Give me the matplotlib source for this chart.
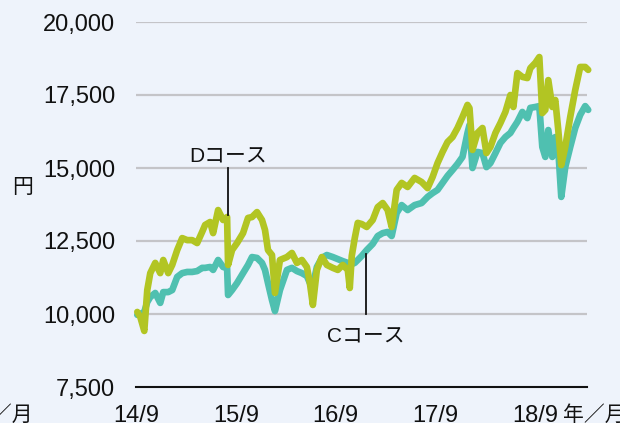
import matplotlib
matplotlib.use('Agg')
import matplotlib.pyplot as plt

plt.rcParams['font.family'] = ['Liberation Sans', 'Noto Sans CJK JP']

# time in decimal years (14/9 = 2014.667)
t = [2014.68, 2014.71, 2014.75, 2014.78, 2014.81, 2014.86, 2014.91, 2014.94, 2014.99, 2015.03,
     2015.08, 2015.13, 2015.18, 2015.23, 2015.28, 2015.33, 2015.36, 2015.41, 2015.44, 2015.49,
     2015.54, 2015.58, 2015.59, 2015.63, 2015.68, 2015.74, 2015.79, 2015.83, 2015.88, 2015.93,
     2015.96, 2015.99, 2016.03, 2016.06, 2016.11, 2016.18, 2016.23, 2016.28, 2016.33, 2016.38,
     2016.41, 2016.44, 2016.48, 2016.53, 2016.58, 2016.64, 2016.69, 2016.74, 2016.79, 2016.81,
     2016.83, 2016.86, 2016.89, 2016.93, 2016.98, 2017.04, 2017.09, 2017.14, 2017.19, 2017.23,
     2017.28, 2017.33, 2017.39, 2017.46, 2017.53, 2017.59, 2017.64, 2017.69, 2017.74, 2017.79,
     2017.84, 2017.89, 2017.94, 2017.99, 2018.01, 2018.04, 2018.09, 2018.14, 2018.18, 2018.22,
     2018.27, 2018.32, 2018.37, 2018.42, 2018.45, 2018.49, 2018.54, 2018.59, 2018.62, 2018.67,
     2018.71, 2018.74, 2018.77, 2018.80, 2018.84, 2018.87, 2018.90, 2018.93, 2018.97, 2019.02,
     2019.07, 2019.12, 2019.17, 2019.20]

d_course = [10070, 9900, 9420, 10820, 11400, 11750, 11400, 11850, 11400, 11680,
            12190, 12600, 12530, 12530, 12430, 12810, 13050, 13150, 12770, 13560,
            13220, 13320, 11680, 12190, 12430, 12770, 13290, 13320, 13490, 13220,
            12880, 12190, 12020, 10720, 11850, 11950, 12090, 11750, 11850, 11610,
            11060, 10310, 11510, 11950, 11680, 11580, 11510, 11680, 11510, 10890,
            11990, 12600, 13120, 13080, 12980, 13220, 13660, 13800, 13560, 12980,
            14250, 14490, 14350, 14660, 14520, 14310, 14690, 15170, 15550, 15890,
            16060, 16370, 16750, 17160, 17050, 15620, 16200, 16370, 15510, 15720,
            16200, 16540, 16920, 17500, 17090, 18250, 18120, 18080, 18420, 18600,
            18800, 16880, 16990, 18010, 17090, 17330, 16300, 15100, 15720, 16750,
            17670, 18460, 18460, 18360]

c_course = [9970, 10000, 10070, 10410, 10580, 10720, 10380, 10750, 10750, 10820,
            11270, 11400, 11440, 11440, 11470, 11580, 11580, 11610, 11510, 11850,
            11610, 11580, 10650, 10820, 11060, 11400, 11680, 11950, 11920, 11750,
            11510, 11060, 10480, 10100, 10820, 11510, 11580, 11470, 11400, 11300,
            11060, 10990, 11610, 11920, 12020, 11950, 11880, 11810, 11750, 11680,
            11710, 11750, 11850, 11990, 12190, 12400, 12670, 12770, 12810, 12670,
            13460, 13730, 13560, 13730, 13800, 14010, 14140, 14250, 14490, 14730,
            14930, 15140, 15380, 16200, 16470, 15000, 15550, 15510, 15030, 15170,
            15510, 15860, 16060, 16200, 16370, 16580, 16920, 16710, 17060, 17090,
            17120, 15720, 15380, 16300, 15380, 16060, 15620, 14010, 15030, 15720,
            16370, 16820, 17120, 16990]

yticks = [7500, 10000, 12500, 15000, 17500, 20000]
xticks = [2014.667, 2015.667, 2016.667, 2017.667, 2018.667]
xlabels = ['14/9', '15/9', '16/9', '17/9', '18/9']

bg = '#EEF3FB'
fig = plt.figure(figsize=(6.2, 4.23), dpi=100, facecolor=bg)
ax = fig.add_axes([136 / 620, 1 - 387 / 423, 451 / 620, 365 / 423])
ax.set_facecolor(bg)

for y in yticks[1:]:
    ax.axhline(y, color='#C4C4C8', lw=1.6, zorder=1)

ax.plot(t, c_course, color='#4FC0B0', lw=4.8, solid_capstyle='round',
        solid_joinstyle='round', zorder=3, clip_on=False)
ax.plot(t, d_course, color='#B2C523', lw=4.8, solid_capstyle='round',
        solid_joinstyle='round', zorder=4, clip_on=False)

ax.set_xlim(2014.667, 2019.188)
ax.set_ylim(7500, 20000)
ax.set_yticks(yticks)
ax.set_yticklabels([f'{v:,}' for v in yticks])
ax.set_xticks(xticks)
ax.set_xticklabels(xlabels)
ax.tick_params(axis='y', length=0, pad=15, labelsize=17, colors='#111111')
ax.tick_params(axis='x', length=0, pad=13, labelsize=17, colors='#111111')

for s in ['left', 'right', 'top']:
    ax.spines[s].set_visible(False)
ax.spines['bottom'].set_color('#111111')
ax.spines['bottom'].set_linewidth(1.5)
ax.spines['bottom'].set_zorder(5)

# callouts
ax.plot([2015.59, 2015.59], [15000, 13380], color='#111111', lw=1.3, zorder=5)
ax.text(2015.59, 15050, 'Dコース', ha='center', va='bottom', fontsize=15, color='#111111')
ax.plot([2016.97, 2016.97], [12050, 10000], color='#111111', lw=1.3, zorder=5)
ax.text(2016.97, 9550, 'Cコース', ha='center', va='top', fontsize=15, color='#111111')

fig.text(12 / 620, 1 - 187 / 423, '円', ha='left', va='center', fontsize=15, color='#111111')
fig.text(563 / 620, 1 - 415 / 423, '年／月', ha='left', va='center', fontsize=15, color='#111111')
fig.text(33 / 620, 1 - 415 / 423, '年／月', ha='right', va='center', fontsize=15, color='#111111')

fig.savefig('out.png', dpi=100, facecolor=bg)
